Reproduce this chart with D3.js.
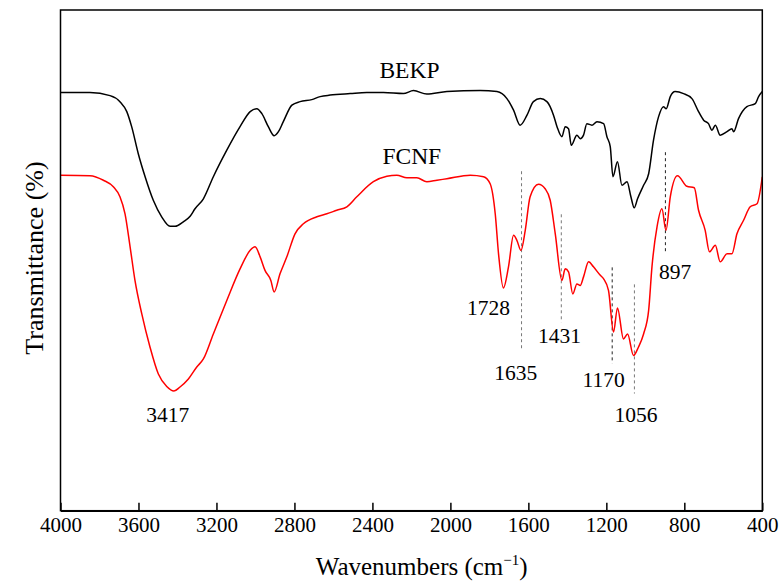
<!DOCTYPE html>
<head>
<style type="text/css">
    body {
      font-family: "Liberation Serif", "Times New Roman", serif;
      margin: 0;
      background: #fff;
    }
    text { font-family: "Liberation Serif", "Times New Roman", serif; fill: #000; }
</style>
</head>
<script src="https://d3js.org/d3.v7.min.js"></script>
<body>
    <svg width="781" height="588"></svg>
    <script>
        // spectra: wavenumber (cm-1) and offset transmittance (a.u.)
        var bekpWn = [4000, 3849, 3746, 3695, 3660, 3635, 3601, 3566, 3524, 3481, 3438, 3412, 3370, 3335, 3310, 3267,
            3216, 3147, 3079, 3027, 2993, 2967, 2934, 2904, 2882, 2857, 2813, 2771, 2711, 2668, 2617, 2514,
            2429, 2343, 2241, 2189, 2121, 2018, 1847, 1761, 1710, 1676, 1642, 1607, 1574, 1539, 1505, 1471,
            1453, 1428, 1411, 1394, 1380, 1351, 1334, 1317, 1300, 1274, 1248, 1214, 1197, 1180, 1166, 1143,
            1120, 1094, 1074, 1057, 1040, 1009, 983, 958, 932, 907, 893, 872, 847, 804, 761, 727,
            701, 676, 658, 641, 616, 581, 556, 547, 522, 479, 436, 419, 400];
        var bekpT = [83.5, 83.5, 82.9, 81.7, 79.7, 76.7, 71.3, 66.7, 62, 58.7, 56.8, 56.8, 57.7, 58.8, 60.3, 62.3,
            66.7, 72, 76.7, 79.7, 80.3, 79.3, 76.7, 74.9, 75.7, 77.7, 81, 81.7, 82.1, 82.7, 83, 83.3,
            83.5, 83.5, 83.3, 83.9, 83.2, 83.7, 83.9, 83.7, 82.3, 80, 77, 79, 81.7, 82.3, 81.7, 79,
            76.7, 74.7, 76.7, 76.3, 73, 75, 74.3, 75, 77.3, 77, 77.7, 77.3, 74.7, 72.7, 66.7, 69.7,
            65, 65.7, 62.7, 60.5, 62.3, 65, 67.3, 74, 78.7, 80.7, 80.3, 82.7, 83.7, 83.3, 82.3, 79.7,
            78, 77.3, 76, 77, 75, 75.7, 76.3, 75.7, 78.3, 80.7, 81.3, 82.7, 83.7];

        var fcnfWn = [4000, 3849, 3780, 3729, 3695, 3669, 3643, 3618, 3583, 3541, 3498, 3455, 3418, 3387, 3344, 3301,
            3267, 3216, 3147, 3079, 3027, 3002, 2976, 2951, 2921, 2904, 2874, 2839, 2797, 2754, 2685, 2634,
            2583, 2531, 2480, 2395, 2326, 2275, 2223, 2172, 2121, 2069, 2018, 1898, 1830, 1796, 1770, 1753,
            1728, 1702, 1676, 1659, 1638, 1616, 1591, 1548, 1514, 1488, 1462, 1428, 1411, 1394, 1372, 1351,
            1334, 1317, 1291, 1266, 1231, 1214, 1189, 1163, 1143, 1112, 1091, 1061, 1035, 1009, 983, 966,
            940, 915, 894, 872, 835, 787, 749, 727, 693, 671, 641, 616, 581, 556, 530, 496,
            462, 427, 400];
        var fcnfT = [67, 66.9, 66, 64.7, 62.7, 59.3, 52.7, 46, 39.3, 32.7, 27.3, 24.8, 23.9, 24.7, 26.3, 28.7,
            30.3, 35.3, 42, 48.3, 52, 52.7, 50.7, 48, 46, 43.7, 47.3, 50.7, 55.3, 57.3, 58.7, 59.3,
            60, 60.7, 62.7, 65.7, 66.8, 67, 66.5, 66.5, 65.7, 66, 66.3, 67, 66.7, 65.3, 59.3, 51.3,
            44.5, 48.7, 55, 54, 52, 56, 62.7, 65.2, 64.3, 62, 55.3, 46, 48.3, 47.7, 43.3, 45.3,
            45, 46.7, 49.7, 48.7, 47, 46.3, 44, 35.7, 40.5, 34.3, 35.3, 31, 32.7, 35.3, 40, 48.7,
            56.7, 60.3, 56, 62.7, 66.9, 64.8, 64.5, 60, 56, 51.7, 53, 49.7, 51.3, 51.3, 55.3, 58,
            60.7, 61.3, 66.7];

        var xTicks = [4000, 3600, 3200, 2800, 2400, 2000, 1600, 1200, 800, 400];

        // sample names: text, wavenumber, level
        var nameText = ["BEKP", "FCNF"];
        var nameWn = [2210, 2198];
        var nameT = [86.5, 69.3];

        // band labels: text, wavenumber, level
        var peakText = ["3417", "1728", "1635", "1431", "1170", "1056", "897"];
        var peakWn = [3450, 1805, 1665, 1440, 1214, 1048, 847];
        var peakT = [17.7, 39, 26.1, 33.5, 24.8, 17.7, 46.3];

        // dashed marker lines: wavenumber, top, bottom
        var markWn = [1635, 1431, 1170, 1056, 897];
        var markTop = [67.8, 59.2, 48.6, 45.2, 71.6];
        var markBot = [32, 37.6, 29.4, 23.4, 51.4];
        var markColor = ["#777", "#777", "#222", "#777", "#222"];

        var plotL = 60.5, plotR = 762.3, plotT = 10, plotB = 510.7;

        var svg = d3.select("svg");

        var x = d3.scaleLinear().domain([4000, 400]).range([plotL, plotR]);
        var y = d3.scaleLinear().domain([0, 100]).range([plotB, plotT]);

        var line = d3.line()
            .curve(d3.curveMonotoneX)
            .x(function(d) { return x(d[0]); })
            .y(function(d) { return y(d[1]); });

        // dashed markers
        svg.selectAll(".mark")
            .data(markWn)
            .enter().append("line")
            .attr("class", "mark")
            .attr("x1", function(d) { return x(d); })
            .attr("x2", function(d) { return x(d); })
            .attr("y1", function(d, i) { return y(markTop[i]); })
            .attr("y2", function(d, i) { return y(markBot[i]); })
            .style("stroke", function(d, i) { return markColor[i]; })
            .style("stroke-width", 1)
            .style("stroke-dasharray", "3,3");

        svg.append("path")
            .datum(bekpWn.map(function(w, i) { return [w, bekpT[i]]; }))
            .attr("d", line)
            .style("fill", "none")
            .style("stroke", "#000")
            .style("stroke-width", 1.5);

        svg.append("path")
            .datum(fcnfWn.map(function(w, i) { return [w, fcnfT[i]]; }))
            .attr("d", line)
            .style("fill", "none")
            .style("stroke", "#ff0000")
            .style("stroke-width", 1.5);

        // frame
        svg.append("rect")
            .attr("x", plotL)
            .attr("y", plotT)
            .attr("width", plotR - plotL)
            .attr("height", plotB - plotT)
            .style("fill", "none")
            .style("stroke", "#000")
            .style("stroke-width", 1.5);

        var xAxis = d3.axisBottom(x)
            .tickValues(xTicks)
            .tickFormat(d3.format("d"))
            .tickSizeInner(-8)
            .tickSizeOuter(0)
            .tickPadding(6);

        var gx = svg.append("g")
            .attr("transform", "translate(0," + plotB + ")")
            .call(xAxis);
        gx.attr("font-size", null).attr("font-family", null);
        gx.select(".domain").style("stroke", "#000").style("stroke-width", 1.5);
        gx.selectAll(".tick line").style("stroke", "#000").style("stroke-width", 1.5);
        gx.selectAll(".tick text")
            .style("font-family", "'Liberation Serif', serif")
            .style("font-size", "21px")
            .style("fill", "#000");

        // axis titles
        var xt = svg.append("text")
            .attr("x", 421.7)
            .attr("y", 575)
            .attr("text-anchor", "middle")
            .style("font-size", "25px");
        xt.append("tspan").text("Wavenumbers (cm");
        xt.append("tspan").attr("dy", -10).style("font-size", "15px").text("\u22121");
        xt.append("tspan").attr("dy", 10).text(")");

        svg.append("text")
            .attr("transform", "translate(43,258) rotate(-90)")
            .attr("text-anchor", "middle")
            .style("font-size", "26px")
            .text("Transmittance (%)");

        svg.selectAll(".name")
            .data(nameText)
            .enter().append("text")
            .attr("class", "name")
            .attr("x", function(d, i) { return x(nameWn[i]); })
            .attr("y", function(d, i) { return y(nameT[i]); })
            .attr("text-anchor", "middle")
            .style("font-size", "23.5px")
            .text(function(d) { return d; });

        svg.selectAll(".peak")
            .data(peakText)
            .enter().append("text")
            .attr("class", "peak")
            .attr("x", function(d, i) { return x(peakWn[i]); })
            .attr("y", function(d, i) { return y(peakT[i]); })
            .attr("text-anchor", "middle")
            .style("font-size", "21.5px")
            .text(function(d) { return d; });
    </script>
</body>
